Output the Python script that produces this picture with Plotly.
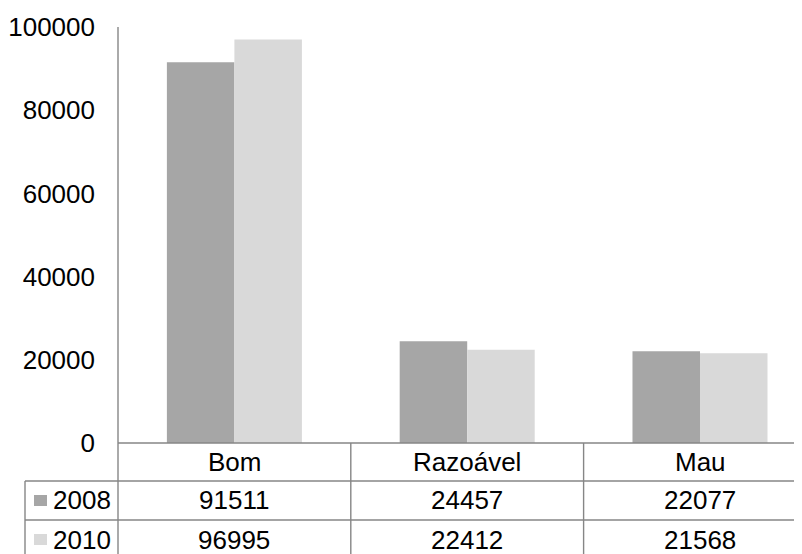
import plotly.graph_objects as go

categories = ["Bom", "Razoável", "Mau"]
years = ["2008", "2010"]
values_2008 = [91511, 24457, 22077]
values_2010 = [96995, 22412, 21568]
colors = ["#A6A6A6", "#D9D9D9"]
y_ticks = [0, 20000, 40000, 60000, 80000, 100000]

W, H = 802, 554
OFF = 8  # page body margin
L, T = 118 - OFF, 27 - OFF
BOT = 443 - OFF
B = H - BOT
PW = W - L
PH = BOT - T
cat_px = 232.8
x_end = -0.5 + PW / cat_px

def py(p):  # screen pixel y -> paper y
    return (BOT - (p - OFF)) / PH

def px(p):  # screen pixel x -> paper x
    return (p - OFF - L) / PW

FONT = "Liberation Sans, Arial, sans-serif"
FS = 26
LINE = dict(color="#868686", width=1.4)

fig = go.Figure()
series = [values_2008, values_2010]
for name, vals, col in zip(years, series, colors):
    fig.add_trace(go.Bar(x=categories, y=vals, name=name, marker=dict(color=col, line=dict(width=0)),
                         showlegend=False))

shapes = []
shapes.append(dict(type="line", xref="paper", yref="paper", x0=0, x1=0, y0=1, y1=py(570), line=LINE))
shapes.append(dict(type="line", xref="paper", yref="paper", x0=0, x1=1.01, y0=0, y1=0, line=LINE))
for rowline in (481, 520):
    shapes.append(dict(type="line", xref="paper", yref="paper", x0=px(25), x1=1.01,
                       y0=py(rowline), y1=py(rowline), line=LINE))
shapes.append(dict(type="line", xref="paper", yref="paper", x0=px(25), x1=px(25),
                   y0=py(481), y1=py(570), line=LINE))
for i in range(1, len(categories)):
    shapes.append(dict(type="line", xref="x", yref="paper", x0=i - 0.5, x1=i - 0.5,
                       y0=0, y1=py(570), line=LINE))

annotations = []
row_centers = [500.5, 539.5]
for c in categories:
    annotations.append(dict(x=c, y=py(462), xref="x", yref="paper", text=c, showarrow=False,
                            font=dict(family=FONT, size=FS, color="#000000"), xanchor="center", yanchor="middle"))
for yr, vals, col, rc in zip(years, series, colors, row_centers):
    shapes.append(dict(type="rect", xref="paper", yref="paper", x0=px(34), x1=px(47),
                       y0=py(rc - 5.5), y1=py(rc + 5.5), fillcolor=col, line=dict(width=0)))
    annotations.append(dict(x=px(51), y=py(rc), xref="paper", yref="paper", text=yr, showarrow=False,
                            font=dict(family=FONT, size=FS, color="#000000"), xanchor="left", yanchor="middle"))
    for c, v in zip(categories, vals):
        annotations.append(dict(x=c, y=py(rc), xref="x", yref="paper", text=str(v), showarrow=False,
                                font=dict(family=FONT, size=FS, color="#000000"), xanchor="center", yanchor="middle"))

fig.update_layout(
    width=W, height=H,
    margin=dict(l=L, r=0, t=T, b=B),
    paper_bgcolor="white", plot_bgcolor="white",
    barmode="group", bargap=0.42, bargroupgap=0,
    xaxis=dict(range=[-0.5, x_end], showticklabels=False, showgrid=False, zeroline=False,
               showline=False, ticks=""),
    yaxis=dict(range=[0, 100000], tickvals=y_ticks, ticktext=[str(t) for t in y_ticks],
               showgrid=False, zeroline=False, showline=False, ticks="", ticklabelstandoff=22,
               tickfont=dict(family=FONT, size=FS, color="#000000")),
    shapes=shapes, annotations=annotations,
)

fig.write_html("out.html")
